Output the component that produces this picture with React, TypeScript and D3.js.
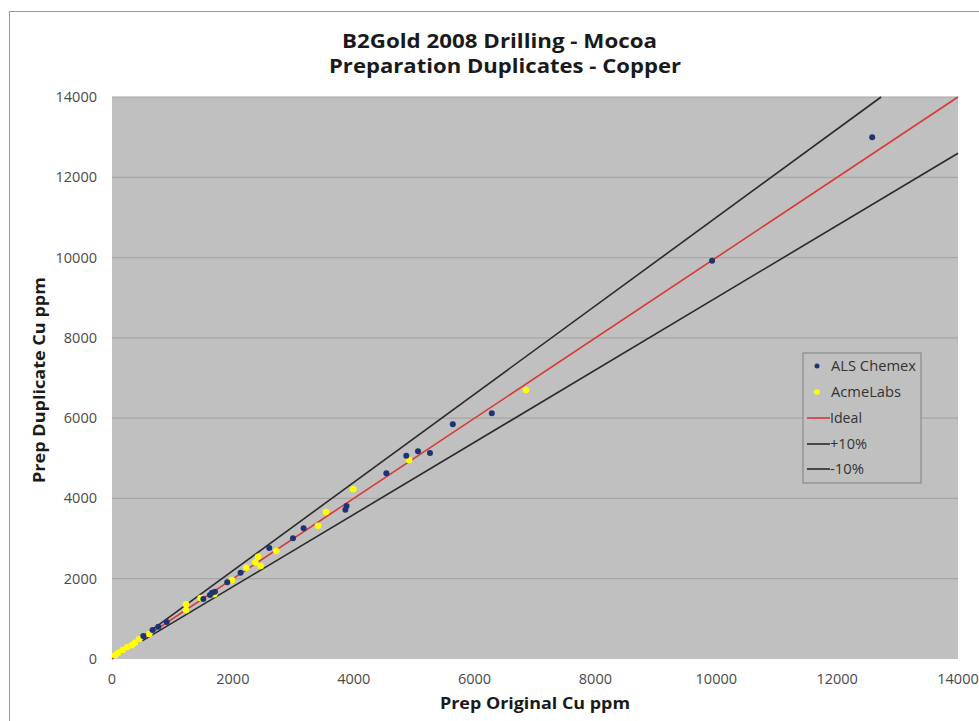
import React from "react";
import * as d3 from "d3";

const alsX = [12580, 9930, 6285, 5640, 5262, 5064, 4870, 4540, 3882, 3862, 3171, 2995, 2603, 2128, 1907, 1704, 1655, 1622, 1511, 905, 766, 671, 518];
const alsY = [13000, 9920, 6125, 5850, 5132, 5174, 5065, 4626, 3812, 3720, 3256, 3006, 2765, 2150, 1911, 1677, 1652, 1594, 1495, 922, 805, 722, 573];

const acmeX = [6851, 4915, 3993, 3541, 3409, 2719, 2416, 2372, 2459, 2223, 1984, 1693, 1466, 1225, 1225, 617, 452, 381, 326, 253, 177, 104, 50];
const acmeY = [6702, 4958, 4227, 3662, 3321, 2690, 2549, 2408, 2317, 2275, 1965, 1612, 1520, 1362, 1221, 623, 498, 406, 341, 291, 224, 157, 92];

const tickValues = [0, 2000, 4000, 6000, 8000, 10000, 12000, 14000];
const titleLines = ["B2Gold 2008 Drilling - Mocoa", "Preparation Duplicates - Copper"];
const xTitle = "Prep Original Cu ppm";
const yTitle = "Prep Duplicate Cu ppm";
const legendLabels = ["ALS Chemex", "AcmeLabs", "Ideal", "+10%", "-10%"];
const ideal = [0, 14000];
const plus10 = [500, 14000 / 1.1];
const minus10 = [500, 14000];

const W = 979, H = 721;
const L = 112, R = 958, T = 97, B = 659;
const FONT = "'Open Sans', Lato, sans-serif";

export default function App() {
  const x = d3.scaleLinear().domain([0, 14000]).range([L, R]);
  const y = d3.scaleLinear().domain([0, 14000]).range([B, T]);
  const line = d3.line<[number, number]>().x((d) => x(d[0])).y((d) => y(d[1]));
  const idealPts: [number, number][] = ideal.map((v) => [v, v]);
  const plusPts: [number, number][] = plus10.map((v) => [v, v * 1.1]);
  const minusPts: [number, number][] = minus10.map((v) => [v, v * 0.9]);
  const navy = "#1c3473";
  const yellow = "#ffff00";
  const red = "#d73a34";
  const dark = "#2a2a2a";
  const lg = { x: 803, y: 353, w: 118, h: 130 };
  const rowY = [366, 392, 418, 444, 469];
  const legendW = [85, 70, 32, 37, 34];

  return (
    <svg width={W} height={H} style={{ display: "block", position: "absolute", left: 0, top: 0 }}>
      <rect x={0} y={0} width={W} height={H} fill="#fff" />
      <rect x={9.5} y={11.5} width={1000} height={800} fill="#fff" stroke="#9a9a9a" strokeWidth={1} />
      <g fontFamily={FONT} fontWeight="bold" fontSize={20} fill="#1a1a1a">
        <text x={342} y={48} textLength={315} lengthAdjust="spacingAndGlyphs">{titleLines[0]}</text>
        <text x={329} y={73} textLength={352} lengthAdjust="spacingAndGlyphs">{titleLines[1]}</text>
      </g>
      <rect x={L} y={T} width={R - L} height={B - T} fill="#c0c0c0" />
      {tickValues.slice(1).map((t) => (
        <line key={t} x1={L} x2={R} y1={y(t)} y2={y(t)} stroke="#a6a6a6" strokeWidth={1.2} />
      ))}
      <g fontFamily={FONT} fontSize={14.5} fill="#4a4a4a">
        {tickValues.map((t) => (
          <text key={"y" + t} x={97} y={y(t) + 5} textAnchor="end">{t}</text>
        ))}
        {tickValues.map((t) => (
          <text key={"x" + t} x={x(t)} y={684} textAnchor="middle">{t}</text>
        ))}
      </g>
      <text x={440} y={709} textLength={190} lengthAdjust="spacingAndGlyphs" fontFamily={FONT} fontWeight="bold" fontSize={16} fill="#1a1a1a">{xTitle}</text>
      <text transform={`translate(45,483) rotate(-90)`} textLength={206} lengthAdjust="spacingAndGlyphs" fontFamily={FONT} fontWeight="bold" fontSize={16} fill="#1a1a1a">{yTitle}</text>
      <path d={line(plusPts) || ""} stroke={dark} strokeWidth={1.6} fill="none" />
      <path d={line(minusPts) || ""} stroke={dark} strokeWidth={1.6} fill="none" />
      <path d={line(idealPts) || ""} stroke={red} strokeWidth={1.6} fill="none" />
      {acmeX.map((v, i) => (
        <circle key={"a" + i} cx={x(v)} cy={y(acmeY[i])} r={3.3} fill={yellow} />
      ))}
      {alsX.map((v, i) => (
        <circle key={"s" + i} cx={x(v)} cy={y(alsY[i])} r={3} fill={navy} />
      ))}
      <rect x={lg.x} y={lg.y} width={lg.w} height={lg.h} fill="#c0c0c0" stroke="#808080" strokeWidth={1} />
      <circle cx={817} cy={rowY[0]} r={2.5} fill={navy} />
      <circle cx={817} cy={rowY[1]} r={2.8} fill={yellow} />
      <line x1={807} x2={830} y1={rowY[2]} y2={rowY[2]} stroke={red} strokeWidth={1.6} />
      <line x1={807} x2={830} y1={rowY[3]} y2={rowY[3]} stroke={dark} strokeWidth={1.6} />
      <line x1={807} x2={830} y1={rowY[4]} y2={rowY[4]} stroke={dark} strokeWidth={1.6} />
      <g fontFamily={FONT} fontSize={14} fill="#333">
        {legendLabels.map((l, i) => (
          <text key={l} x={i < 2 ? 831 : 830} y={rowY[i] + 5} textLength={legendW[i]} lengthAdjust="spacingAndGlyphs">{l}</text>
        ))}
      </g>
    </svg>
  );
}
